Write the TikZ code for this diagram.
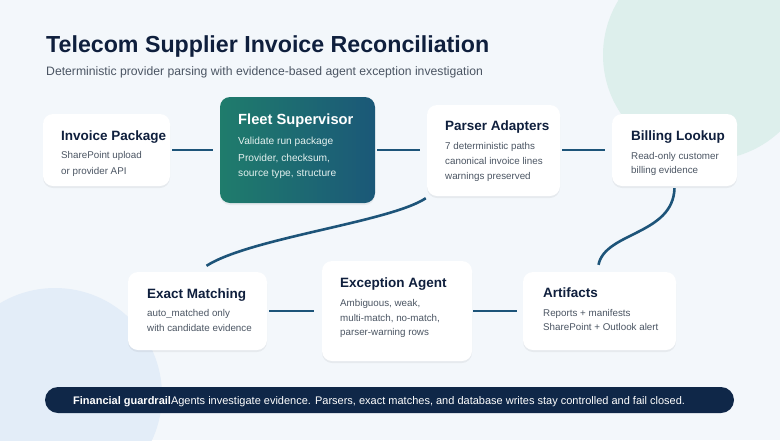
\documentclass[tikz,border=0pt]{standalone}
\usepackage{fontspec}
\setmainfont{Liberation Sans}
\usetikzlibrary{shadows,calc}
\definecolor{bgc}{HTML}{F3F7FB}
\definecolor{circA}{HTML}{DDEFEC}
\definecolor{circB}{HTML}{E3EDF8}
\definecolor{navy}{HTML}{0F1F3D}
\definecolor{bodyc}{HTML}{4B5563}
\definecolor{linec}{HTML}{1D5479}
\definecolor{fleetA}{HTML}{1F7C6C}
\definecolor{fleetB}{HTML}{1B5878}
\definecolor{barc}{HTML}{0F2748}
\definecolor{fleettxt}{HTML}{E4F1EF}
\tikzset{
  box/.style={fill=white, rounded corners=10pt, inner sep=0pt,
    drop shadow={shadow xshift=0pt, shadow yshift=-2pt, opacity=0.05, fill=black}},
  ttl/.style={anchor=base west, inner sep=0pt, text=navy, font=\fontsize{13.5}{16}\selectfont\bfseries},
  body/.style={anchor=base west, inner sep=0pt, text=bodyc, font=\fontsize{9.8}{12}\selectfont},
  conn/.style={draw=linec, line width=2.6pt},
}
\begin{document}
\begin{tikzpicture}[x=1pt,y=-1pt]
\useasboundingbox (0,0) rectangle (780,440);
\fill[bgc] (0,0) rectangle (780,440);
\begin{scope}
\clip (0,0) rectangle (780,440);
\fill[circA] (708,55) circle[radius=105];
\fill[circB] (55,395) circle[radius=107];
\end{scope}

% header
\node[anchor=base west, inner sep=0pt, text=navy, font=\fontsize{23.2}{27}\selectfont\bfseries] (title) at (46,52.5) {Telecom Supplier Invoice Reconciliation};
\node[anchor=base west, inner sep=0pt, text=bodyc, font=\fontsize{12.2}{14}\selectfont] (subtitle) at (46,75) {Deterministic provider parsing with evidence-based agent exception investigation};

% boxes
\node[box, minimum width=127pt, minimum height=72pt] (inv) at (106.5,150) {};
\node[box, minimum width=155pt, minimum height=106pt, left color=fleetA, right color=fleetB] (fle) at (297.5,150) {};
\node[box, minimum width=133pt, minimum height=91pt] (par) at (493.5,150.5) {};
\node[box, minimum width=125pt, minimum height=72pt] (bil) at (674.5,150) {};
\node[box, minimum width=139pt, minimum height=78pt] (exa) at (197.5,311) {};
\node[box, minimum width=150pt, minimum height=100pt] (exc) at (397,311) {};
\node[box, minimum width=153pt, minimum height=78pt] (art) at (599.5,311) {};

% texts
\node[ttl] (invT) at (61,140) {Invoice Package};
\node[body] (invA) at (61,158) {SharePoint upload};
\node[body] (invB) at (61,174) {or provider API};

\node[ttl, text=white, font=\fontsize{14.7}{17}\selectfont\bfseries] (fleT) at (238,124.5) {Fleet Supervisor};
\node[body, text=fleettxt, font=\fontsize{10.2}{12}\selectfont] (fleA) at (238,144) {Validate run package};
\node[body, text=fleettxt, font=\fontsize{10.2}{12}\selectfont] (fleB) at (238,161) {Provider, checksum,};
\node[body, text=fleettxt, font=\fontsize{10.2}{12}\selectfont] (fleC) at (238,176) {source type, structure};

\node[ttl] (parT) at (445,130) {Parser Adapters};
\node[body] (parA) at (445,149) {7 deterministic paths};
\node[body] (parB) at (445,164) {canonical invoice lines};
\node[body] (parC) at (445,179) {warnings preserved};

\node[ttl] (bilT) at (631,140) {Billing Lookup};
\node[body] (bilA) at (631,159) {Read-only customer};
\node[body] (bilB) at (631,173) {billing evidence};

\node[ttl] (exaT) at (147,298) {Exact Matching};
\node[body] (exaA) at (147,316) {auto\_matched only};
\node[body] (exaB) at (147,331) {with candidate evidence};

\node[ttl] (excT) at (340,287) {Exception Agent};
\node[body] (excA) at (340,306) {Ambiguous, weak,};
\node[body] (excB) at (340,321) {multi-match, no-match,};
\node[body] (excC) at (340,335) {parser-warning rows};

\node[ttl] (artT) at (543,297) {Artifacts};
\node[body] (artA) at (543,316) {Reports + manifests};
\node[body] (artB) at (543,330) {SharePoint + Outlook alert};

% connectors
\draw[conn, shorten <=2pt, shorten >=7pt] (inv.east) -- (fle.west);
\draw[conn, shorten <=2pt, shorten >=7pt] (fle.east) -- (par.west |- fle.east);
\draw[conn, shorten <=2pt, shorten >=7pt] (par.east |- bil.west) -- (bil.west);
\draw[conn, shorten <=2pt, shorten >=8pt] (exa.east) -- (exc.west);
\draw[conn, shorten <=1pt, shorten >=6pt] (exc.east) -- (art.west);
\draw[conn] ([shift={(-1,2)}]par.south west) .. controls (390,222) and (250,238) .. ([shift={(9,-6)}]exa.north);
\draw[conn] ([shift={(0,2)}]bil.south) .. controls (673,235) and (605,232) .. ([shift={(-1,-7)}]art.north);

% guardrail bar
\node[fill=barc, rounded corners=13pt, minimum width=689pt, minimum height=26pt, inner sep=0pt] (guard) at (389.5,400) {};
\node[anchor=base west, inner sep=0pt, text=white, font=\fontsize{11}{13}\selectfont] (guardT) at (73,404) {{\bfseries Financial guardrail}Agents investigate evidence. Parsers, exact matches, and database writes stay controlled and fail closed.};
\end{tikzpicture}
\end{document}
